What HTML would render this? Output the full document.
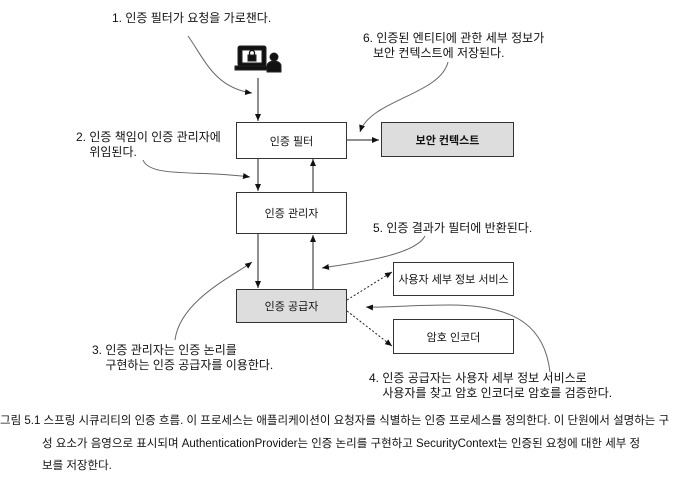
<!DOCTYPE html>
<html><head><meta charset="utf-8"><style>
body{margin:0;background:#fff;width:700px;height:486px;overflow:hidden;position:relative;font-family:"Liberation Sans","Noto Sans CJK KR",sans-serif;color:#111}
.t{position:absolute;font-size:12px;line-height:15px;white-space:nowrap}
.b{position:absolute;border:1px solid #333;box-sizing:border-box;display:flex;align-items:center;justify-content:center;font-size:11px;background:#fff}
.g{background:#ddd;border-width:1.5px}
</style></head><body>
<svg width="700" height="486" style="position:absolute;left:0;top:0">
<defs><marker id="a" markerWidth="8" markerHeight="8" refX="7" refY="4" orient="auto" markerUnits="userSpaceOnUse"><path d="M0,1 L7,4 L0,7z" fill="#111"/></marker></defs>
<g stroke="#222" stroke-width="1" fill="none">
<!-- icon -->
<rect x="238" y="46" width="28" height="20" rx="2" fill="#111"/>
<rect x="242" y="50" width="20" height="13" fill="#fff"/>
<rect x="235" y="66" width="34" height="4" fill="#111"/>
<rect x="248" y="55" width="8" height="6" fill="#111"/>
<path d="M249.5,55 v-2 a2.5,2.5 0 0 1 5,0 v2" stroke="#111" stroke-width="1.3"/>
<circle cx="274" cy="57" r="4" fill="#111"/>
<path d="M267,72 v-6 a7,5 0 0 1 14,0 v6z" fill="#111"/>
<line x1="258" y1="78" x2="258" y2="121" marker-end="url(#a)"/>
<line x1="258" y1="158" x2="258" y2="191" marker-end="url(#a)"/>
<line x1="313" y1="192" x2="313" y2="159" marker-end="url(#a)"/>
<line x1="258" y1="234" x2="258" y2="288" marker-end="url(#a)"/>
<line x1="313" y1="289" x2="313" y2="235" marker-end="url(#a)"/>
<line x1="347" y1="140" x2="379" y2="140" marker-end="url(#a)"/>
<line x1="347" y1="300" x2="392" y2="272" stroke-dasharray="2,2" marker-end="url(#a)"/>
<line x1="347" y1="311" x2="392" y2="346" stroke-dasharray="2,2" marker-end="url(#a)"/>
<g stroke="#666">
<path d="M188,36 C205,60 215,88 252,93" marker-end="url(#a)"/>
<path d="M448,62 C440,95 370,100 360,132" marker-end="url(#a)"/>
<path d="M143,160 C150,178 200,170 250,177" marker-end="url(#a)"/>
<path d="M175,340 C180,300 235,275 252,262" marker-end="url(#a)"/>
<path d="M425,236 C415,255 360,262 322,268" marker-end="url(#a)"/>
<path d="M550,372 C545,330 520,305 450,305 C410,305 380,308 366,307" marker-end="url(#a)"/>
</g></g></svg>
<div class="b" style="left:236px;top:122px;width:111px;height:37px">인증 필터</div>
<div class="b g" style="left:381px;top:122px;width:133px;height:35px"><b style="font-weight:600">보안 컨텍스트</b></div>
<div class="b" style="left:236px;top:192px;width:111px;height:42px">인증 관리자</div>
<div class="b g" style="left:236px;top:289px;width:111px;height:34px">인증 공급자</div>
<div class="b" style="left:393px;top:262px;width:121px;height:34px">사용자 세부 정보 서비스</div>
<div class="b" style="left:393px;top:319px;width:121px;height:35px">암호 인코더</div>
<div class="t" style="left:112px;top:11px">1. 인증 필터가 요청을 가로챈다.</div>
<div class="t" style="left:363px;top:31px">6. 인증된 엔티티에 관한 세부 정보가<br>&nbsp;&nbsp;&nbsp;보안 컨텍스트에 저장된다.</div>
<div class="t" style="left:76px;top:130px">2. 인증 책임이 인증 관리자에<br>&nbsp;&nbsp;&nbsp;&nbsp;위임된다.</div>
<div class="t" style="left:373px;top:221px">5. 인증 결과가 필터에 반환된다.</div>
<div class="t" style="left:92px;top:343px">3. 인증 관리자는 인증 논리를<br>&nbsp;&nbsp;&nbsp;&nbsp;구현하는 인증 공급자를 이용한다.</div>
<div class="t" style="left:369px;top:371px">4. 인증 공급자는 사용자 세부 정보 서비스로<br>&nbsp;&nbsp;&nbsp;&nbsp;사용자를 찾고 암호 인코더로 암호를 검증한다.</div>
<div class="t" style="left:0;top:410px;font-size:11.5px;line-height:22.5px">그림 5.1 스프링 시큐리티의 인증 흐름. 이 프로세스는 애플리케이션이 요청자를 식별하는 인증 프로세스를 정의한다. 이 단원에서 설명하는 구<br><span style="padding-left:42px">성 요소가 음영으로 표시되며 AuthenticationProvider는 인증 논리를 구현하고 SecurityContext는 인증된 요청에 대한 세부 정</span><br><span style="padding-left:42px">보를 저장한다.</span></div>
</body></html>
